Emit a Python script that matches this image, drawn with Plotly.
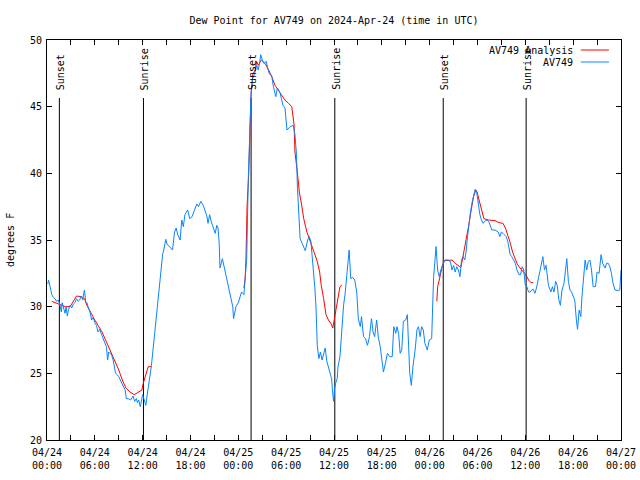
import pandas as pd
import plotly.graph_objects as go

# ---------------- data ----------------
base = pd.Timestamp("2024-04-24 00:00")

obs_hours = [0.1,0.2,0.5,0.6,0.8,1.0,1.2,1.4,1.6,1.8,1.9,2.1,2.26,2.4,2.55,2.7,2.9,3.1,3.3,3.5,3.7,3.9,4.1,4.3,4.5,4.6,4.7,4.85,5.0,5.2,5.4,5.6,5.8,6.0,6.2,6.4,6.6,6.85,7.05,7.28,7.45,7.6,7.75,7.9,8.1,8.3,8.45,8.6,8.8,9.0,9.2,9.4,9.6,9.8,9.95,10.2,10.5,10.7,10.8,11.0,11.2,11.35,11.5,11.7,11.85,12.0,12.1,12.25,12.4,12.55,12.7,12.9,13.1,13.25,13.4,13.5,13.6,13.76,13.97,14.1,14.26,14.5,14.7,14.9,15.05,15.2,15.4,15.6,15.75,16.0,16.2,16.4,16.55,16.7,16.9,17.1,17.3,17.45,17.65,17.9,18.2,18.5,18.8,19.0,19.3,19.6,19.9,20.05,20.2,20.4,20.6,20.8,21.1,21.3,21.45,21.6,21.7,22.0,22.3,22.5,22.8,23.0,23.3,23.4,23.7,24.0,24.2,24.4,24.7,24.8,25.05,25.25,25.45,25.6,25.8,26.1,26.3,26.5,26.7,26.8,27.0,27.2,27.5,27.8,28.0,28.2,28.4,28.6,28.7,28.9,29.2,29.4,29.6,29.85,30.1,30.5,30.9,31.1,31.3,31.4,31.5,31.65,31.75,32.0,32.2,32.4,32.7,32.9,33.1,33.4,33.6,33.75,33.9,34.1,34.3,34.5,34.7,34.9,35.1,35.4,35.7,35.85,35.95,36.05,36.2,36.4,36.5,36.75,36.97,37.2,37.4,37.6,37.8,37.9,38.1,38.35,38.6,38.85,39.05,39.3,39.45,39.7,39.95,40.2,40.45,40.7,40.9,41.1,41.35,41.55,41.8,41.97,42.2,42.45,42.7,43.0,43.3,43.5,43.75,43.9,44.1,44.3,44.5,44.7,45.0,45.2,45.35,45.5,45.7,45.9,46.2,46.4,46.6,46.8,47.0,47.2,47.4,47.7,47.95,48.25,48.4,48.5,48.7,48.8,49.0,49.2,49.4,49.6,49.9,50.3,50.6,50.8,51.0,51.2,51.4,51.6,51.8,52.0,52.2,52.4,52.6,52.7,52.85,53.1,53.3,53.5,53.7,53.9,54.1,54.3,54.5,54.7,54.9,55.2,55.4,55.6,55.8,56.2,56.6,56.8,57.0,57.2,57.4,57.6,57.8,57.9,58.1,58.3,58.5,58.75,58.95,59.2,59.4,59.6,59.8,60.0,60.2,60.4,60.6,60.8,61.0,61.2,61.4,61.6,61.8,62.0,62.2,62.4,62.6,62.7,62.9,63.2,63.4,63.6,63.8,64.0,64.2,64.4,64.6,64.85,65.0,65.2,65.4,65.6,65.8,66.0,66.2,66.4,66.55,66.75,66.96,67.1,67.3,67.5,67.7,67.9,68.1,68.3,68.5,68.8,69.0,69.25,69.5,69.7,70.0,70.2,70.4,70.6,70.8,71.0,71.25,71.7,71.85,72.0]
obs_values = [31.7,32.0,31.2,30.9,30.7,30.6,30.4,30.5,30.2,29.6,30.3,29.8,29.5,30.0,29.3,29.8,30.1,29.9,30.2,30.3,30.6,30.4,30.5,30.8,30.5,31.0,31.25,30.4,30.3,29.9,29.6,29.0,29.2,28.8,28.6,28.1,28.3,27.9,27.6,27.25,27.0,26.0,26.6,26.5,26.4,26.0,25.6,25.0,24.9,24.75,24.5,24.25,24.0,23.75,23.1,23.1,23.0,23.2,23.3,22.9,23.1,22.8,23.0,22.5,23.0,23.4,23.2,22.8,22.6,23.3,24.1,24.75,25.6,26.5,27.3,28.1,29.0,30.0,30.9,31.75,33.0,33.9,34.4,35.05,34.7,34.6,34.5,34.4,34.25,35.6,35.9,35.4,35.2,35.0,36.5,36.0,36.9,37.1,37.25,36.6,36.75,37.25,37.7,37.5,37.9,37.6,37.1,36.8,36.25,36.9,36.4,36.0,35.5,36.1,35.9,34.75,32.9,33.6,32.75,32.1,31.5,30.75,30.0,29.1,30.0,30.3,30.75,31.1,30.9,31.6,33.6,39.6,43.4,46.1,47.1,47.6,48.1,47.75,48.4,48.9,48.5,48.25,48.4,47.6,47.4,47.25,46.5,46.1,45.75,46.4,46.1,45.6,45.1,44.9,43.25,43.5,43.6,42.9,41.4,39.1,37.6,36.4,35.1,34.75,34.4,34.2,35.0,35.25,34.9,33.1,31.4,29.9,27.1,26.1,26.6,26.0,26.4,26.9,25.9,25.25,24.6,23.4,22.9,23.75,24.25,24.6,25.5,26.25,28.25,30.1,31.0,32.5,33.75,34.25,32.1,32.2,32.0,31.1,29.1,28.5,29.25,27.75,27.6,27.1,27.75,29.1,28.1,27.75,29.0,27.75,27.0,26.0,25.1,25.75,26.5,26.25,26.25,28.5,28.0,28.5,28.0,26.5,26.75,28.9,29.0,29.4,27.5,25.0,24.1,25.5,26.9,28.25,28.5,27.75,28.5,28.25,27.25,26.75,27.5,27.6,30.5,32.25,33.75,34.5,32.75,32.25,32.75,33.1,33.5,33.5,33.4,32.75,33.1,32.6,33.0,32.75,32.25,33.5,33.75,33.5,34.25,35.0,35.9,37.0,37.75,38.4,38.8,38.6,37.5,36.9,36.5,36.25,36.4,36.5,36.4,36.1,35.75,35.75,35.6,35.25,35.6,35.5,35.4,35.25,34.9,34.6,33.9,33.75,33.5,33.25,32.75,32.4,32.4,33.0,32.75,31.6,31.5,31.1,31.1,31.25,31.3,31.0,31.4,32.0,32.6,33.4,33.75,32.75,33.1,32.6,31.6,31.1,31.5,31.1,31.9,31.6,30.5,30.1,31.25,31.75,32.5,33.6,31.9,31.25,31.1,30.75,30.5,29.0,28.3,29.75,29.25,30.75,32.0,33.5,32.75,33.4,33.5,32.75,31.5,31.5,32.6,32.5,33.9,33.25,32.9,33.25,33.25,33.0,32.5,31.75,31.25,31.2,31.25,32.75]

ana1_hours = [0.6,1.2,1.7,2.3,2.9,3.2,3.7,4.3,4.7,5.0,5.4,5.9,6.4,6.9,7.35,7.9,8.5,9.0,9.45,9.9,10.4,10.95,11.5,11.9,12.05,12.2,12.4,12.7,13.1]
ana1_values = [30.4,30.25,30.1,30.0,30.0,30.3,30.8,30.75,30.6,30.1,29.6,29.1,28.6,28.1,27.5,26.75,26.0,25.25,24.5,23.9,23.6,23.4,23.6,23.75,24.2,24.5,25.05,25.5,25.5]

ana2_hours = [24.7,24.85,24.95,25.0,25.1,25.3,25.4,25.5,25.6,25.8,26.1,26.3,26.5,26.9,27.35,27.8,28.2,28.6,29.0,29.4,29.85,30.3,30.7,31.0,31.1,31.4,31.65,31.95,32.2,32.6,32.9,33.2,33.6,33.9,34.2,34.4,34.7,35.0,35.3,35.6,35.85,36.05,36.25,36.55,36.75,36.97]
ana2_values = [31.4,32.1,33.4,35.4,37.6,39.9,41.75,43.75,45.9,47.4,47.75,48.4,48.1,48.5,48.25,47.75,47.25,46.6,46.25,45.9,45.5,45.25,45.0,43.6,41.6,40.1,38.6,37.6,36.6,35.6,35.1,34.6,33.9,33.4,32.6,31.6,30.6,29.4,29.0,28.75,28.4,29.1,29.9,30.9,31.5,31.6]

ana3_hours = [48.9,49.0,49.2,49.4,49.6,49.8,50.3,50.8,51.2,51.6,51.9,52.1,52.35,52.6,52.9,53.25,53.5,53.8,53.95,54.2,54.5,54.8,55.4,56.2,56.7,57.2,57.5,57.8,58.05,58.4,58.7,58.95,59.2,59.6,59.9,60.2,60.4,60.7,61.0]
ana3_values = [30.4,31.5,32.0,32.6,33.1,33.45,33.5,33.5,33.25,33.1,32.95,33.5,34.25,35.1,36.1,37.4,38.25,38.75,38.6,38.0,37.25,36.6,36.5,36.45,36.3,36.25,35.9,35.4,34.9,34.1,33.6,33.25,33.0,32.75,32.5,32.25,32.0,31.8,31.8]

sun_hours = [1.55, 12.1, 25.6, 36.1, 49.7, 60.1]
sun_labels = ["Sunset", "Sunrise", "Sunset", "Sunrise", "Sunset", "Sunrise"]

title_text = "Dew Point for AV749 on 2024-Apr-24 (time in UTC)"
series_names = ["AV749 Analysis", "AV749"]
y_label = "degrees F"

# ---------------- figure ----------------
RED = "#ff0000"
BLUE = "#0a84ff"
FONT = "DejaVu Sans Mono"


def to_time(hours):
    return [base + pd.Timedelta(hours=h) for h in hours]


fig = go.Figure()
for hrs, vals in [(ana1_hours, ana1_values), (ana2_hours, ana2_values), (ana3_hours, ana3_values)]:
    fig.add_trace(go.Scatter(x=to_time(hrs), y=vals, mode="lines",
                             line=dict(color=RED, width=1), name=series_names[0],
                             showlegend=False, hoverinfo="skip"))
fig.add_trace(go.Scatter(x=to_time(obs_hours), y=obs_values, mode="lines",
                         line=dict(color=BLUE, width=1), name=series_names[1],
                         showlegend=False))

shapes = []
annotations = []
for h, lab in zip(sun_hours, sun_labels):
    t = base + pd.Timedelta(hours=h)
    shapes.append(dict(type="line", xref="x", yref="paper", x0=t, x1=t, y0=0, y1=0.855,
                       line=dict(color="black", width=1), layer="below"))
    annotations.append(dict(x=t, xref="x", y=0.87, yref="paper", text=lab,
                            textangle=-90, showarrow=False, xanchor="center",
                            yanchor="bottom", xshift=1,
                            font=dict(family=FONT, size=10, color="black")))

# manual legend (text right, line sample on right like gnuplot)
leg_y = [0.975, 0.945]
for name, col, yy in zip(series_names, [RED, BLUE], leg_y):
    annotations.append(dict(x=0.92, xref="paper", y=yy, yref="paper", text=name,
                            showarrow=False, xanchor="right", yanchor="middle",
                            font=dict(family=FONT, size=10, color="black")))
    shapes.append(dict(type="line", xref="paper", yref="paper", x0=0.930, x1=0.979,
                       y0=yy, y1=yy, line=dict(color=col, width=1)))

annotations.append(dict(x=0, xref="paper", xshift=-37, y=0.5, yref="paper",
                        text=y_label, textangle=-90, showarrow=False,
                        xanchor="center", yanchor="middle",
                        font=dict(family=FONT, size=10, color="black")))

fig.update_layout(
    width=640, height=480,
    margin=dict(l=47, r=19, t=40, b=40),
    paper_bgcolor="white", plot_bgcolor="white",
    font=dict(family=FONT, size=10, color="black"),
    title=dict(text=title_text, x=0.5, xref="paper", xanchor="center",
               y=1 - 20 / 480, yref="container", yanchor="middle",
               font=dict(family=FONT, size=10, color="black")),
    showlegend=False,
    shapes=shapes,
    annotations=annotations,
)

fig.update_xaxes(
    type="date",
    range=[base, base + pd.Timedelta(hours=72)],
    tick0=base, dtick=6 * 3600 * 1000,
    tickformat="%m/%d<br>%H:%M",
    ticks="inside", ticklen=5, tickcolor="black", tickwidth=1,
    ticklabelstandoff=3,
    minor=dict(dtick=3 * 3600 * 1000, ticks="inside", ticklen=5, tickcolor="black", showgrid=False),
    showline=True, linecolor="black", linewidth=1, mirror="allticks",
    showgrid=False, zeroline=False, automargin=False,
    tickfont=dict(family=FONT, size=10, color="black"),
)
fig.update_yaxes(
    range=[20, 50], dtick=5, tick0=20,
    ticks="inside", ticklen=5, tickcolor="black", tickwidth=1,
    ticklabelstandoff=2,
    showline=True, linecolor="black", linewidth=1, mirror="allticks",
    showgrid=False, zeroline=False, automargin=False,
    tickfont=dict(family=FONT, size=10, color="black"),
)

fig.write_html("out.html", config={"displayModeBar": False},
               post_script="document.body.style.margin='0';")
